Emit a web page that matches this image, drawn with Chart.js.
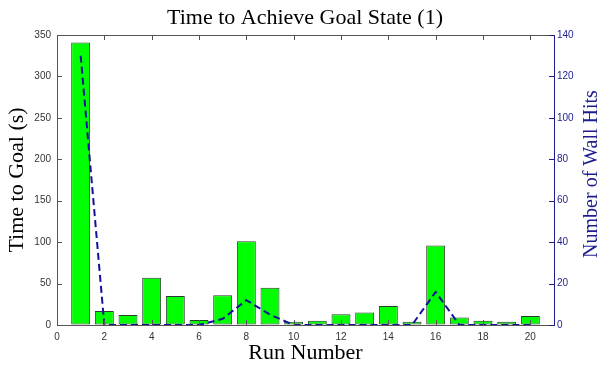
<!DOCTYPE html>
<html>
<head>
<meta charset="utf-8">
<script src="https://cdn.jsdelivr.net/npm/chart.js@4.4.1/dist/chart.umd.min.js"></script>
<style>
  body { margin: 0; background: #fff; }
  canvas { display: block; }
</style>
</head>
<body>
<canvas id="chart" width="600" height="366"></canvas>
<script>
const runs = [1, 2, 3, 4, 5, 6, 7, 8, 9, 10, 11, 12, 13, 14, 15, 16, 17, 18, 19, 20];
const timeToGoal = [341, 17, 12, 57, 35, 6, 36, 101, 45, 4, 5, 13, 15, 23, 4, 96, 9, 5, 4, 11];
const wallHits = [130, 0, 0, 0, 0, 0, 3, 12, 5, 0, 0, 0, 0, 0, 0, 16, 0, 0, 0, 0];
const runTicks = [0, 2, 4, 6, 8, 10, 12, 14, 16, 18, 20];

const navy = "#1c1c8c";
const serif = "'Liberation Serif', 'Times New Roman', serif";
const sans = "'Liberation Sans', Arial, sans-serif";

// inward ticks, top box line and the right-hand title
const matlabAxes = {
  id: "matlabAxes",
  afterDraw(chart) {
    const { ctx, chartArea: a, scales } = chart;
    const len = 5;
    ctx.save();
    ctx.lineWidth = 1;
    ctx.strokeStyle = "#555";
    ctx.beginPath();
    ctx.moveTo(a.left, a.top + 0.5);
    ctx.lineTo(a.right, a.top + 0.5);
    scales.x.ticks.forEach((t) => {
      if (t.value <= 0) return;
      const px = Math.round(scales.x.getPixelForValue(t.value)) + 0.5;
      ctx.moveTo(px, a.bottom);
      ctx.lineTo(px, a.bottom - len);
      ctx.moveTo(px, a.top);
      ctx.lineTo(px, a.top + len);
    });
    scales.y.ticks.forEach((t) => {
      const py = Math.round(scales.y.getPixelForValue(t.value)) + 0.5;
      ctx.moveTo(a.left, py);
      ctx.lineTo(a.left + len, py);
    });
    ctx.stroke();
    ctx.strokeStyle = navy;
    ctx.beginPath();
    scales.y2.ticks.forEach((t) => {
      const py = Math.round(scales.y2.getPixelForValue(t.value)) + 0.5;
      ctx.moveTo(a.right, py);
      ctx.lineTo(a.right - len, py);
    });
    ctx.stroke();

    ctx.translate(592, (a.top + a.bottom) / 2 - 6);
    ctx.rotate(-Math.PI / 2);
    ctx.fillStyle = navy;
    ctx.font = "20px " + serif;
    ctx.textAlign = "center";
    ctx.textBaseline = "middle";
    ctx.fillText("Number of Wall Hits", 0, 0);
    ctx.restore();
  },
};

const ctx = document.getElementById("chart").getContext("2d");
new Chart(ctx, {
  type: "bar",
  data: {
    datasets: [
      {
        type: "line",
        label: "Number of Wall Hits",
        data: runs.map((r, i) => ({ x: r, y: wallHits[i] })),
        yAxisID: "y2",
        borderColor: "#12129a",
        borderWidth: 2,
        borderDash: [7, 4],
        pointRadius: 0,
        tension: 0,
        order: 0,
      },
      {
        label: "Time to Goal (s)",
        data: runs.map((r, i) => ({ x: r, y: timeToGoal[i] })),
        yAxisID: "y",
        backgroundColor: "#00ff00",
        borderColor: "#2d3d2d",
        borderWidth: 1,
        borderSkipped: false,
        barPercentage: 0.8,
        categoryPercentage: 1,
        order: 1,
      },
    ],
  },
  options: {
    responsive: false,
    animation: false,
    layout: { padding: { left: 10 } },
    plugins: {
      legend: { display: false },
      tooltip: { enabled: false },
      title: {
        display: true,
        text: "Time to Achieve Goal State (1)",
        color: "#000",
        font: { family: serif, size: 22, weight: "normal", lineHeight: 1.2 },
        padding: { top: 5, bottom: 3.6 },
      },
    },
    scales: {
      x: {
        type: "linear",
        min: 0,
        max: 21,
        offset: false,
        grid: { display: true, offset: false, drawOnChartArea: false, drawTicks: false },
        border: { color: "#555" },
        afterBuildTicks: (s) => { s.ticks = runTicks.map((v) => ({ value: v })); },
        ticks: {
          padding: 6,
          color: "#333",
          font: { family: sans, size: 10 },
          maxRotation: 0,
          autoSkip: false,
        },
        title: {
          display: true,
          text: "Run Number",
          color: "#000",
          font: { family: serif, size: 22, lineHeight: 1.2 },
          padding: { top: 0, bottom: 0 },
        },
        afterFit: (s) => { s.height = 41; },
      },
      y: {
        position: "left",
        min: 0,
        max: 350,
        grid: { display: true, drawOnChartArea: false, drawTicks: false },
        border: { color: "#555" },
        ticks: {
          stepSize: 50,
          padding: 6,
          color: "#333",
          font: { family: sans, size: 10 },
        },
        title: {
          display: true,
          text: "Time to Goal (s)",
          color: "#000",
          font: { family: serif, size: 22, lineHeight: 1.2 },
          padding: { top: -6, bottom: 0 },
        },
        afterFit: (s) => { s.width = 47; },
      },
      y2: {
        position: "right",
        min: 0,
        max: 140,
        grid: { display: true, drawOnChartArea: false, drawTicks: false },
        border: { color: navy },
        ticks: {
          stepSize: 20,
          padding: 3,
          color: navy,
          font: { family: sans, size: 10 },
        },
        afterFit: (s) => { s.width = 46; },
      },
    },
  },
  plugins: [matlabAxes],
});
</script>
</body>
</html>
